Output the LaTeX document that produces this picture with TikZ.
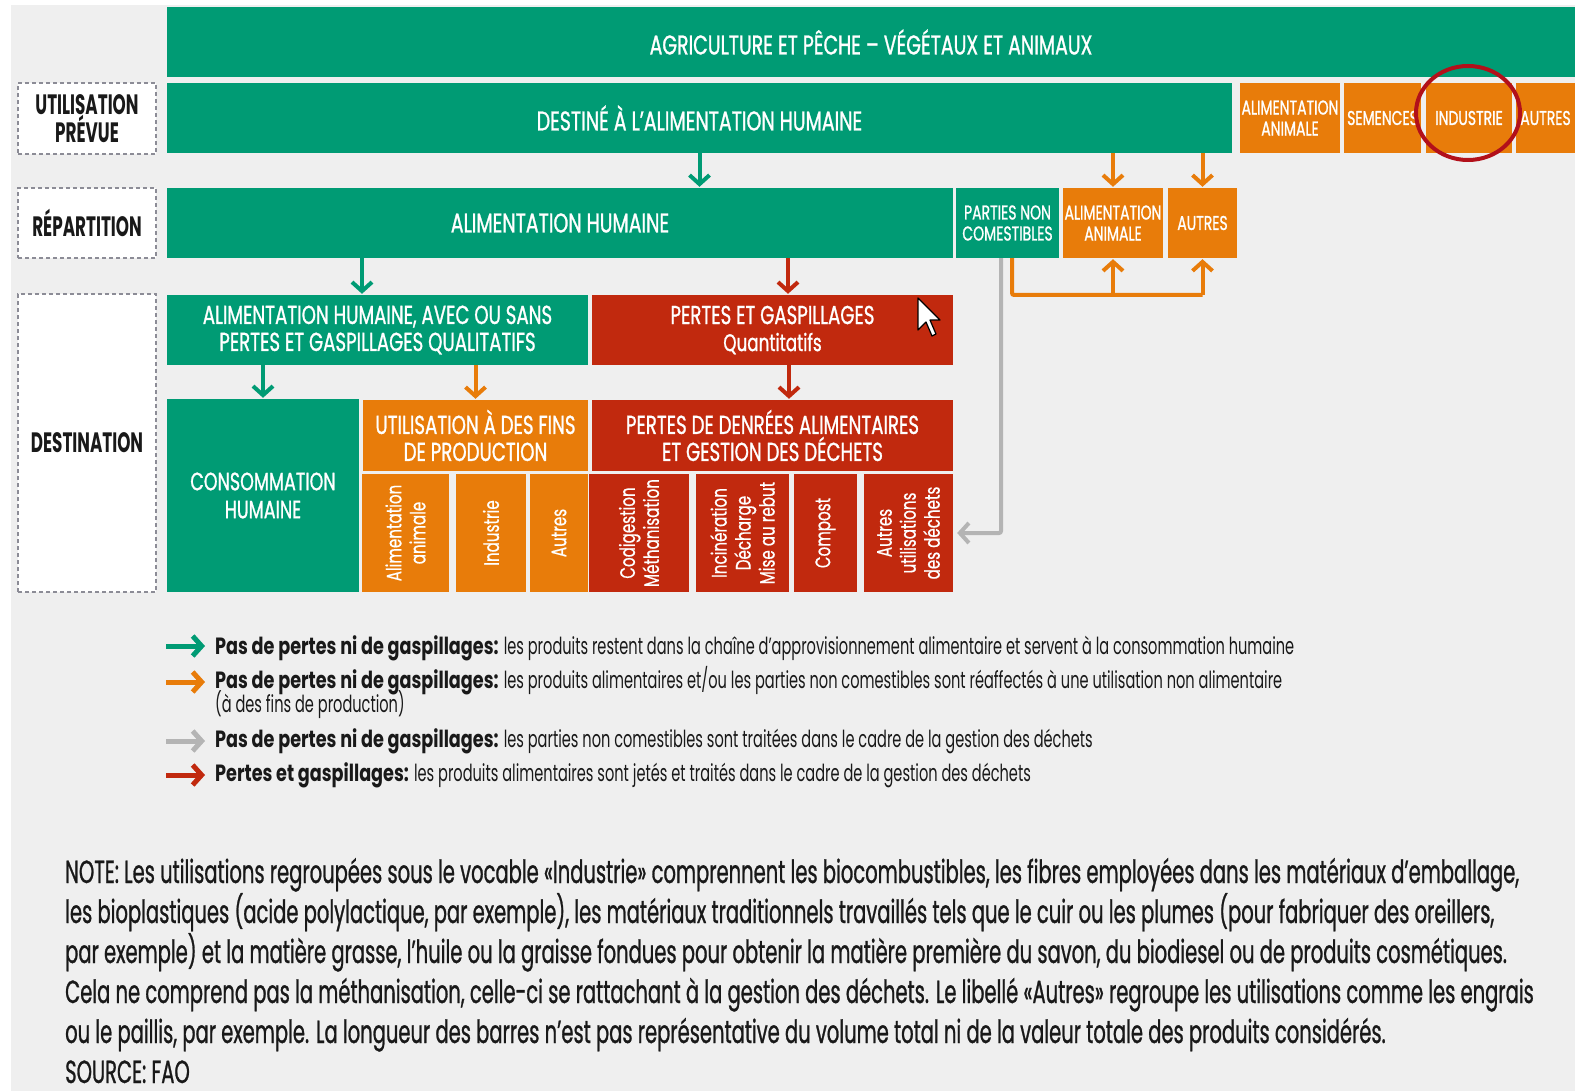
\documentclass[tikz,border=0pt]{standalone}
\usepackage{fontspec}
\setmainfont{Poppins}[FakeStretch=0.62,BoldFeatures={FakeStretch=0.75}]
\newfontfamily\capfont{Poppins}[FakeStretch=0.6]
\newfontfamily\boxfont{Poppins}[FakeStretch=0.7,FakeBold=1]
\newfontfamily\subfont{Poppins}[FakeStretch=0.72,FakeBold=0.6]
\newfontfamily\notefont{Poppins}[FakeStretch=0.61,FakeBold=0.8]
\usetikzlibrary{arrows.meta}
\definecolor{fgreen}{RGB}{0,155,116}
\definecolor{forange}{RGB}{232,124,10}
\definecolor{fred}{RGB}{193,41,14}
\definecolor{fgrey}{RGB}{180,180,180}
\definecolor{bgrey}{RGB}{239,239,239}
\definecolor{dashgrey}{RGB}{140,140,150}
\definecolor{ringred}{RGB}{178,16,26}
\definecolor{ink}{RGB}{25,25,25}
\begin{document}
\begin{tikzpicture}[x=1pt,y=-1pt,
    box/.style={inner sep=0pt,text=white,align=center,font=\boxfont\fontsize{27}{27}\selectfont},
    gbox/.style={box,fill=fgreen},
    obox/.style={box,fill=forange},
    rbox/.style={box,fill=fred},
    small/.style={font=\boxfont\fontsize{20}{21}\selectfont},
    mid/.style={font=\boxfont\fontsize{26}{27}\selectfont},
    sub/.style={rotate=90,font=\subfont\fontsize{21}{24}\selectfont},
    lab/.style={draw=dashgrey,dash pattern=on 4pt off 3pt,line width=2pt,fill=white,
      text=ink,align=center,minimum width=138pt,font=\capfont\bfseries\fontsize{28}{26}\selectfont},
    flow/.style={line width=4pt,shorten >=1pt,-{Straight Barb[length=9pt,width=20pt]}},
    legarrow/.style={line width=5pt,-{Straight Barb[length=9pt,width=20pt]}},
    legtext/.style={anchor=base west,inner sep=0pt,text=ink,align=left,font=\fontsize{23.5}{23}\selectfont}]
  \useasboundingbox (0,0) rectangle (1575,1091);
  \fill[bgrey] (11,5) rectangle (1575,1091);

  % left column
  \node[lab,minimum height=71pt] (labu) at (87,118.5) {UTILISATION\\PRÉVUE};
  \node[lab,minimum height=70pt] (labr) at (87,223) {RÉPARTITION};
  \node[lab,minimum height=298pt] (labd) at (87,443) {DESTINATION};

  % production
  \node[gbox,minimum width=1408pt,minimum height=70pt] (agri) at (871,42) {AGRICULTURE ET PÊCHE – VÉGÉTAUX ET ANIMAUX};

  % utilisation prevue
  \node[gbox,minimum width=1065pt,minimum height=70pt] (destine) at (699.5,118) {DESTINÉ À L’ALIMENTATION HUMAINE};
  \node[obox,small,minimum width=100pt,minimum height=70pt] (aa2) at (1290,118) {ALIMENTATION\\ANIMALE};
  \node[obox,small,minimum width=77pt,minimum height=70pt] (sem) at (1382.5,118) {SEMENCES};
  \node[obox,small,minimum width=86pt,minimum height=70pt] (ind) at (1469,118) {INDUSTRIE};
  \node[obox,small,minimum width=59pt,minimum height=70pt] (aut2) at (1545.5,118) {AUTRES};
  \draw[ringred,line width=4pt] (1468,113) ellipse [x radius=52, y radius=47];

  % repartition
  \node[gbox,minimum width=786pt,minimum height=70pt] (alh) at (560,223) {ALIMENTATION HUMAINE};
  \node[gbox,small,minimum width=103pt,minimum height=70pt] (pnc) at (1007.5,223) {PARTIES NON\\COMESTIBLES};
  \node[obox,small,minimum width=100pt,minimum height=70pt] (aa3) at (1113,223) {ALIMENTATION\\ANIMALE};
  \node[obox,small,minimum width=69pt,minimum height=70pt] (au3) at (1202.5,223) {AUTRES};

  % destination
  \node[gbox,mid,minimum width=421pt,minimum height=70pt] (avec) at (377.5,330) {ALIMENTATION HUMAINE, AVEC OU SANS\\PERTES ET GASPILLAGES QUALITATIFS};
  \node[rbox,mid,minimum width=361pt,minimum height=70pt] (pg) at (772.5,330) {PERTES ET GASPILLAGES\\{\fontsize{24}{27}\selectfont Quantitatifs}};
  \node[gbox,font=\boxfont\fontsize{25}{28}\selectfont,minimum width=192pt,minimum height=193pt] (conso) at (263,495.5) {CONSOMMATION\\HUMAINE};
  \node[obox,mid,minimum width=225pt,minimum height=71pt] (prod) at (475.5,435.5) {UTILISATION À DES FINS\\DE PRODUCTION};
  \node[rbox,mid,minimum width=361pt,minimum height=71pt] (pdal) at (772.5,435.5) {PERTES DE DENRÉES ALIMENTAIRES\\ET GESTION DES DÉCHETS};
  \node[obox,sub,minimum width=118pt,minimum height=87pt] (saa) at (405.5,533) {Alimentation\\animale};
  \node[obox,sub,minimum width=118pt,minimum height=70pt] (sind) at (491,533) {Industrie};
  \node[obox,sub,minimum width=118pt,minimum height=58pt] (saut) at (559,533) {Autres};
  \node[rbox,sub,minimum width=118pt,minimum height=100pt] (scod) at (639,533) {Codigestion\\Méthanisation};
  \node[rbox,sub,minimum width=118pt,minimum height=93pt] (sinc) at (742.5,533) {Incinération\\Décharge\\Mise au rebut};
  \node[rbox,sub,minimum width=118pt,minimum height=63pt] (scomp) at (825.5,533) {Compost};
  \node[rbox,sub,minimum width=118pt,minimum height=89pt] (sautd) at (908.5,533) {Autres\\utilisations\\des déchets};

  % pointer
  \draw[fill=white,line width=1.2pt,line join=round] (918,298) -- (918,330) -- (926,322) -- (932,336)
    -- (936,334) -- (930,320) -- (940,320) -- cycle;

  % flows
  \draw[flow,fgreen] (destine.south) -- (destine.south |- alh.north);
  \draw[flow,forange] (destine.south -| aa3.north) -- (aa3.north);
  \draw[flow,forange] (destine.south -| au3.north) -- (au3.north);
  \draw[flow,fgreen] (alh.south -| 362,0) -- (avec.north -| 362,0);
  \draw[flow,fred] (alh.south -| 788,0) -- (pg.north -| 788,0);
  \draw[flow,fgreen] (avec.south -| conso.north) -- (conso.north);
  \draw[flow,forange] (avec.south -| prod.north) -- (prod.north);
  \draw[flow,fred] (pg.south -| 789,0) -- (pdal.north -| 789,0);
  \coordinate (pj) at (1012,295);
  \draw[forange,line width=4pt,rounded corners=2pt] (pnc.south -| pj) -- (pj) -- (pj -| au3.south);
  \draw[flow,forange] (pj -| aa3.south) -- (aa3.south);
  \draw[flow,forange] (pj -| au3.south) -- (au3.south);
  \draw[flow,fgrey,rounded corners=2pt,shorten >=4pt] (pnc.south -| 1001,0) |- (sautd.south);

  % legend
  \coordinate (lg1a) at (166,646); \coordinate (lg1b) at (205,646);
  \coordinate (lg2a) at (166,682); \coordinate (lg2b) at (205,682);
  \coordinate (lg3a) at (166,741); \coordinate (lg3b) at (205,741);
  \coordinate (lg4a) at (166,775); \coordinate (lg4b) at (205,775);
  \draw[legarrow,fgreen] (lg1a) -- (lg1b);
  \draw[legarrow,forange] (lg2a) -- (lg2b);
  \draw[legarrow,fgrey] (lg3a) -- (lg3b);
  \draw[legarrow,fred] (lg4a) -- (lg4b);
  \node[legtext] (leg1) at (215,654) {{\bfseries Pas de pertes ni de gaspillages:} les produits restent dans la chaîne d’approvisionnement alimentaire et servent à la consommation humaine};
  \node[legtext] (leg2) at (215,712) {{\bfseries Pas de pertes ni de gaspillages:} les produits alimentaires et/ou les parties non comestibles sont réaffectés à une utilisation non alimentaire\\[-6pt](à des fins de production)};
  \node[legtext] (leg3) at (215,747) {{\bfseries Pas de pertes ni de gaspillages:} les parties non comestibles sont traitées dans le cadre de la gestion des déchets};
  \node[legtext] (leg4) at (215,781) {{\bfseries Pertes et gaspillages:} les produits alimentaires sont jetés et traités dans le cadre de la gestion des déchets};

  % note
  \node[anchor=base west,inner sep=0pt,text=ink,align=left,font=\notefont\fontsize{32}{40}\selectfont] (note) at (65,1083)
    {NOTE: Les utilisations regroupées sous le vocable «Industrie» comprennent les biocombustibles, les fibres employées dans les matériaux d’emballage,\\
     les bioplastiques (acide polylactique, par exemple), les matériaux traditionnels travaillés tels que le cuir ou les plumes (pour fabriquer des oreillers,\\
     par exemple) et la matière grasse, l’huile ou la graisse fondues pour obtenir la matière première du savon, du biodiesel ou de produits cosmétiques.\\
     Cela ne comprend pas la méthanisation, celle-ci se rattachant à la gestion des déchets. Le libellé «Autres» regroupe les utilisations comme les engrais\\
     ou le paillis, par exemple. La longueur des barres n’est pas représentative du volume total ni de la valeur totale des produits considérés.\\
     SOURCE: FAO};
\end{tikzpicture}
\end{document}
